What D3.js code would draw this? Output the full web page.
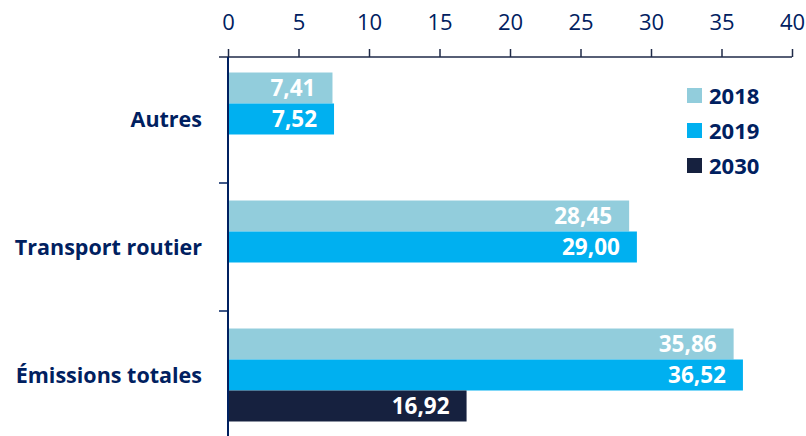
<!DOCTYPE html>
<html>
<head>
<meta charset="utf-8">
<script src="https://cdn.jsdelivr.net/npm/d3@7"></script>
<style>
  body { margin: 0; background: #fff; }
  svg { display: block; font-family: "Open Sans", Lato, sans-serif; font-variant-ligatures: none; }
</style>
</head>
<body>
<div id="chart"></div>
<script>
// data
var categories = ["Autres", "Transport routier", "Émissions totales"];
var years = ["2018", "2019", "2030"];
var values2018 = [7.41, 28.45, 35.86];
var values2019 = [7.52, 29.00, 36.52];
var values2030 = [null, null, 16.92];
var xTicks = [0, 5, 10, 15, 20, 25, 30, 35, 40];

var colors = { "2018": "#92CDDC", "2019": "#00B0F0", "2030": "#16213F" };
var navy = "#002060";

var width = 806, height = 436;
var axisY = 57;

var svg = d3.select("#chart").append("svg")
    .attr("width", width)
    .attr("height", height);

// set the ranges
var x = d3.scaleLinear().domain([0, 40]).range([228, 792]);
var y = d3.scaleBand().domain(categories).range([55, 439]);
var yInner = d3.scaleBand().domain(years).range([0, y.bandwidth()]).paddingOuter(0.565);

var fr = d3.formatLocale({ decimal: ",", thousands: " ", grouping: [3], currency: ["", " €"] });
var fmt = fr.format(".2f");

var rows = [];
categories.forEach(function(c, i) {
  rows.push({ cat: c, year: "2018", value: values2018[i] });
  rows.push({ cat: c, year: "2019", value: values2019[i] });
  rows.push({ cat: c, year: "2030", value: values2030[i] });
});
rows = rows.filter(function(d) { return d.value != null; });

// bars
svg.append("g").selectAll("rect")
    .data(rows)
  .enter().append("rect")
    .attr("x", x(0))
    .attr("y", function(d) { return y(d.cat) + yInner(d.year); })
    .attr("width", function(d) { return x(d.value) - x(0); })
    .attr("height", yInner.bandwidth())
    .attr("fill", function(d) { return colors[d.year]; });

// value labels
svg.append("g").selectAll("text")
    .data(rows)
  .enter().append("text")
    .attr("x", function(d) { return x(d.value) - 17; })
    .attr("y", function(d) { return y(d.cat) + yInner(d.year) + yInner.bandwidth() / 2; })
    .attr("dy", "0.36em")
    .attr("text-anchor", "end")
    .attr("fill", "#fff")
    .style("font-size", "22.5px")
    .style("font-weight", "bold")
    .text(function(d) { return fmt(d.value); });

// top x axis
var xAxis = svg.append("g")
    .attr("transform", "translate(0," + axisY + ")")
    .call(d3.axisTop(x).tickValues(xTicks).tickSize(8).tickSizeOuter(0).tickPadding(19));
xAxis.select(".domain").remove();
xAxis.selectAll("line").attr("stroke", "#1F2A48").attr("stroke-width", 1.5);
xAxis.selectAll("text")
    .attr("fill", navy)
    .style("font-size", "22px")
    .style("font-family", "'Open Sans', sans-serif");
xAxis.append("line")
    .attr("x1", 219).attr("x2", x(40))
    .attr("stroke", "#1F2A48").attr("stroke-width", 1.5);

// left category axis
var yAxis = svg.append("g");
yAxis.append("line")
    .attr("x1", x(0)).attr("x2", x(0))
    .attr("y1", axisY).attr("y2", height)
    .attr("stroke", navy).attr("stroke-width", 2);
yAxis.selectAll(".tick")
    .data(categories.slice(1))
  .enter().append("line")
    .attr("x1", 219).attr("x2", x(0))
    .attr("y1", function(d) { return y(d); })
    .attr("y2", function(d) { return y(d); })
    .attr("stroke", navy).attr("stroke-width", 1.5);
yAxis.selectAll(".label")
    .data(categories)
  .enter().append("text")
    .attr("x", 202)
    .attr("y", function(d) { return y(d) + y.bandwidth() / 2; })
    .attr("dy", "0.36em")
    .attr("text-anchor", "end")
    .attr("fill", navy)
    .style("font-size", "21.5px")
    .style("font-weight", "bold")
    .text(function(d) { return d; });

// legend
var legend = svg.append("g").attr("transform", "translate(687,88)");
var item = legend.selectAll("g")
    .data(years)
  .enter().append("g")
    .attr("transform", function(d, i) { return "translate(0," + (i * 35) + ")"; });
item.append("rect")
    .attr("width", 15).attr("height", 15)
    .attr("fill", function(d) { return colors[d]; });
item.append("text")
    .attr("x", 22)
    .attr("y", 8.5)
    .attr("dy", "0.36em")
    .attr("fill", navy)
    .style("font-size", "22px")
    .style("font-weight", "bold")
    .text(function(d) { return d; });
</script>
</body>
</html>
